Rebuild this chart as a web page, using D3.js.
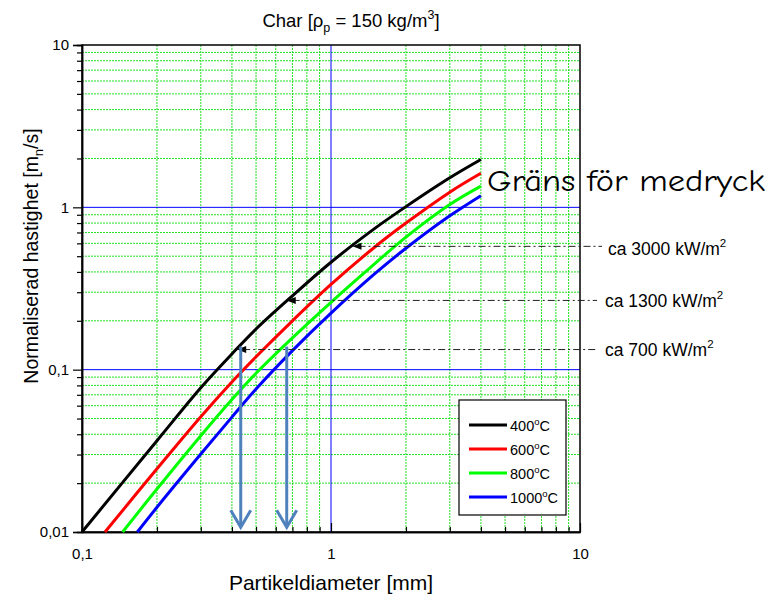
<!DOCTYPE html>
<html>
<head>
<meta charset="utf-8">
<script src="https://cdn.jsdelivr.net/npm/d3@7"></script>
<style>
  html, body { margin: 0; padding: 0; background: #fff; }
  svg { display: block; font-family: "Liberation Sans", Arial, sans-serif; }
</style>
</head>
<body>
<svg id="chart" width="782" height="596"></svg>
<script>
// Particle diameters (mm) sampled along each curve
const diameters = [0.2, 0.3, 0.4, 0.5, 0.7, 1, 1.5, 2, 3, 4];
// Each curve starts on the bottom edge (0.01 m/s) at its own diameter
const startDiameters = [0.1, 0.1237, 0.1456, 0.1668];
const startVelocity = 0.01;

// Normalised velocity [m_n/s] per temperature
const v400  = [0.0365, 0.0774, 0.125, 0.178, 0.285, 0.459, 0.742, 1.01, 1.52, 1.97];
const v600  = [0.0245, 0.0513, 0.084, 0.120, 0.200, 0.335, 0.570, 0.800, 1.24, 1.62];
const v800  = [0.0184, 0.0392, 0.0655, 0.095, 0.157, 0.260, 0.450, 0.655, 1.04, 1.35];
const v1000 = [0.0142, 0.0302, 0.051, 0.076, 0.131, 0.223, 0.390, 0.560, 0.887, 1.18];

const seriesNames = ["400", "600", "800", "1000"];
const seriesColors = ["#000000", "#ff0000", "#00ff00", "#0000ff"];
const seriesValues = [v400, v600, v800, v1000];

// Axis ticks
const xMajor = [0.1, 1, 10];
const xTickLabels = ["0,1", "1", "10"];
const yMajor = [0.01, 0.1, 1, 10];
const yTickLabels = ["0,01", "0,1", "1", "10"];

// Heat flux annotations: level on the 400 °C curve and the diameter where it is reached
const fluxLabels = ["ca 3000 kW/m", "ca 1300 kW/m", "ca 700 kW/m"];
const fluxLevels = [0.575, 0.267, 0.133];
const fluxTips = [1.22, 0.664, 0.42];

// Vertical read-off arrows down to the diameter axis
const readDiameters = [0.434, 0.664];
const readTop = 0.1387;
const readBottom = 0.0107;

const svg = d3.select("#chart");
const L = 82, R = 580, T = 45, B = 532;

const x = d3.scaleLog().domain([0.1, 10]).range([L, R]);
const y = d3.scaleLog().domain([0.01, 10]).range([B, T]);

const minors = lo => d3.range(2, 10).map(k => k * lo);
const xMinor = [...minors(0.1), ...minors(1)];
const yMinor = [...minors(0.01), ...minors(0.1), ...minors(1)];

// Grid: dotted green minor lines, solid blue decade lines
const grid = svg.append("g");
grid.selectAll(".gx").data(xMinor).join("line")
  .attr("x1", d => x(d)).attr("x2", d => x(d)).attr("y1", T).attr("y2", B)
  .attr("stroke", "#22e022").attr("stroke-width", 1).attr("stroke-dasharray", "2,1");
grid.selectAll(".gy").data(yMinor).join("line")
  .attr("y1", d => y(d)).attr("y2", d => y(d)).attr("x1", L).attr("x2", R)
  .attr("stroke", "#22e022").attr("stroke-width", 1).attr("stroke-dasharray", "2,1");
grid.selectAll(".bx").data([1]).join("line")
  .attr("x1", d => x(d)).attr("x2", d => x(d)).attr("y1", T).attr("y2", B)
  .attr("stroke", "#0000ff").attr("stroke-width", 1);
grid.selectAll(".by").data([0.1, 1]).join("line")
  .attr("y1", d => y(d)).attr("y2", d => y(d)).attr("x1", L).attr("x2", R)
  .attr("stroke", "#0000ff").attr("stroke-width", 1);

// Frame
svg.append("rect").attr("x", L).attr("y", T).attr("width", R - L).attr("height", B - T)
  .attr("fill", "none").attr("stroke", "#000").attr("stroke-width", 1.5);

// Left axis: outward ticks
svg.append("g").attr("transform", `translate(${L},0)`)
  .call(d3.axisLeft(y).tickValues(yMajor).tickSize(9).tickPadding(4)
    .tickFormat((d, i) => yTickLabels[i]));
svg.append("g").attr("transform", `translate(${L},0)`)
  .call(d3.axisLeft(y).tickValues(yMinor).tickSize(5).tickFormat(""));

// Bottom axis: inward ticks
svg.append("g").attr("transform", `translate(0,${B})`)
  .call(d3.axisBottom(x).tickValues(xMajor).tickSizeInner(-9).tickSizeOuter(0).tickPadding(16)
    .tickFormat((d, i) => xTickLabels[i]));
svg.append("g").attr("transform", `translate(0,${B})`)
  .call(d3.axisBottom(x).tickValues(xMinor).tickSizeInner(-5).tickSizeOuter(0).tickFormat(""));

svg.selectAll(".domain").attr("stroke", "#000").attr("stroke-width", 1.5);
svg.selectAll(".tick line").attr("stroke", "#000").attr("stroke-width", 1.2);
svg.selectAll(".tick text").attr("font-size", 15).attr("fill", "#000")
  .attr("font-family", "Liberation Sans, Arial, sans-serif");

// Curves
const line = d3.line().x(d => x(d[0])).y(d => y(d[1])).curve(d3.curveCatmullRom.alpha(0.5));
seriesValues.forEach((vals, i) => {
  const pts = [[startDiameters[i], startVelocity], ...diameters.map((d, j) => [d, vals[j]])];
  svg.append("path").datum(pts).attr("d", line)
    .attr("fill", "none").attr("stroke", seriesColors[i]).attr("stroke-width", 3);
});

// Heat flux dash-dot leaders with left-pointing arrowheads
const fluxG = svg.append("g");
fluxLevels.forEach((lv, i) => {
  const yy = y(lv), xt = x(fluxTips[i]);
  const endX = R + (i === 0 ? 22 : 17);
  fluxG.append("line").attr("x1", xt + 6).attr("x2", endX).attr("y1", yy).attr("y2", yy)
    .attr("stroke", "#222").attr("stroke-width", 1).attr("stroke-dasharray", "7,3,2,3");
  fluxG.append("path")
    .attr("d", `M${xt},${yy} L${xt + 9},${yy - 3.5} L${xt + 9},${yy + 3.5} Z`)
    .attr("fill", "#000");
  const t = fluxG.append("text").attr("x", R + (i === 0 ? 28 : 25)).attr("y", yy + (i === 0 ? 8.5 : 6.5))
    .attr("font-size", 17.5).attr("fill", "#000");
  t.append("tspan").text(fluxLabels[i]);
  t.append("tspan").attr("dy", -8).attr("font-size", 11.5).text("2");
});

// Vertical read-off arrows
const arrowG = svg.append("g");
readDiameters.forEach(d => {
  const xx = x(d), y0 = y(readTop), y1 = y(readBottom);
  arrowG.append("line").attr("x1", xx).attr("x2", xx).attr("y1", y0).attr("y2", y1 - 1)
    .attr("stroke", "#4f81bd").attr("stroke-width", 3);
  arrowG.append("path").attr("d", `M${xx - 10},${y1 - 17} L${xx},${y1} L${xx + 10},${y1 - 17}`)
    .attr("fill", "none").attr("stroke", "#4f81bd").attr("stroke-width", 3)
    .attr("stroke-linejoin", "miter");
});

// Entrainment limit label
svg.append("text").attr("x", 487).attr("y", 191)
  .attr("font-family", "'Comic Sans MS', 'Comic Neue', cursive")
  .attr("font-size", 30).attr("fill", "#000")
  .attr("textLength", 278).attr("lengthAdjust", "spacingAndGlyphs")
  .text("Gräns för medryck");

// Legend
const lg = svg.append("g");
lg.append("rect").attr("x", 459).attr("y", 400).attr("width", 107).attr("height", 115)
  .attr("fill", "#fff").attr("stroke", "#000").attr("stroke-width", 1.2);
seriesNames.forEach((n, i) => {
  const yy = 425 + i * 24;
  lg.append("line").attr("x1", 469).attr("x2", 507).attr("y1", yy).attr("y2", yy)
    .attr("stroke", seriesColors[i]).attr("stroke-width", 3);
  const t = lg.append("text").attr("x", 510).attr("y", yy + 6).attr("font-size", 14.5).attr("fill", "#000");
  t.append("tspan").text(n);
  t.append("tspan").attr("dy", -6).attr("font-size", 9.5).text("o");
  t.append("tspan").attr("dy", 6).text("C");
});

// Title
const title = svg.append("text").attr("x", 351).attr("y", 27).attr("text-anchor", "middle")
  .attr("font-size", 18.5).attr("fill", "#000");
title.append("tspan").text("Char [ρ");
title.append("tspan").attr("dy", 5).attr("font-size", 12.5).text("p");
title.append("tspan").attr("dy", -5).text(" = 150 kg/m");
title.append("tspan").attr("dy", -8).attr("font-size", 12.5).text("3");
title.append("tspan").attr("dy", 8).text("]");

// Axis titles
svg.append("text").attr("x", (L + R) / 2).attr("y", 590).attr("text-anchor", "middle")
  .attr("font-size", 21).attr("fill", "#000").text("Partikeldiameter [mm]");

const yl = svg.append("text").attr("transform", "translate(38,256) rotate(-90)")
  .attr("text-anchor", "middle").attr("font-size", 19.5).attr("fill", "#000");
yl.append("tspan").text("Normaliserad hastighet [m");
yl.append("tspan").attr("dy", 5).attr("font-size", 13).text("n");
yl.append("tspan").attr("dy", -5).text("/s]");
</script>
</body>
</html>
